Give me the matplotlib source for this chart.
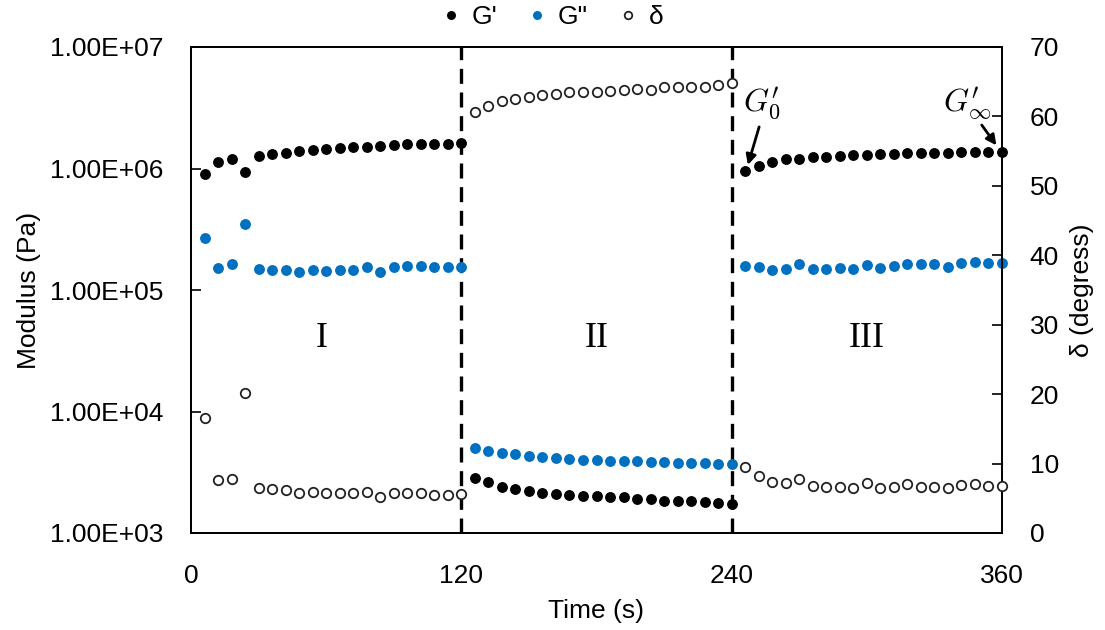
import numpy as np
import matplotlib
matplotlib.use("Agg")
import matplotlib.pyplot as plt

plt.rcParams['font.family'] = ['Liberation Sans', 'DejaVu Sans']
plt.rcParams['mathtext.fontset'] = 'cm'

time_s = np.arange(6, 361, 6)

g_storage = [
    9.0e5, 1.13e6, 1.19e6, 9.4e5, 1.27e6, 1.32e6, 1.35e6, 1.39e6, 1.41e6, 1.44e6,
    1.47e6, 1.49e6, 1.50e6, 1.52e6, 1.55e6, 1.58e6, 1.58e6, 1.60e6, 1.60e6, 1.61e6,
    2.85e3, 2.61e3, 2.40e3, 2.29e3, 2.22e3, 2.15e3, 2.08e3, 2.04e3, 2.02e3, 2.01e3,
    1.99e3, 1.97e3, 1.91e3, 1.89e3, 1.85e3, 1.83e3, 1.82e3, 1.81e3, 1.78e3, 1.73e3,
    9.5e5, 1.05e6, 1.14e6, 1.19e6, 1.19e6, 1.24e6, 1.25e6, 1.27e6, 1.29e6, 1.29e6,
    1.32e6, 1.32e6, 1.35e6, 1.35e6, 1.35e6, 1.35e6, 1.37e6, 1.37e6, 1.37e6, 1.37e6,
]
g_loss = [
    2.69e5, 1.51e5, 1.64e5, 3.49e5, 1.48e5, 1.45e5, 1.47e5, 1.41e5, 1.45e5, 1.43e5,
    1.45e5, 1.47e5, 1.55e5, 1.41e5, 1.56e5, 1.58e5, 1.58e5, 1.56e5, 1.56e5, 1.56e5,
    5.04e3, 4.76e3, 4.53e3, 4.47e3, 4.33e3, 4.25e3, 4.14e3, 4.07e3, 3.99e3, 3.99e3,
    3.94e3, 3.94e3, 3.89e3, 3.84e3, 3.82e3, 3.79e3, 3.79e3, 3.75e3, 3.72e3, 3.67e3,
    1.58e5, 1.54e5, 1.46e5, 1.49e5, 1.63e5, 1.49e5, 1.49e5, 1.51e5, 1.49e5, 1.61e5,
    1.52e5, 1.58e5, 1.64e5, 1.63e5, 1.64e5, 1.54e5, 1.66e5, 1.69e5, 1.66e5, 1.66e5,
]
delta_deg = [
    16.6, 7.63, 7.78, 20.16, 6.52, 6.34, 6.19, 5.72, 5.86, 5.72,
    5.72, 5.72, 5.86, 5.23, 5.72, 5.80, 5.80, 5.47, 5.47, 5.57,
    60.59, 61.54, 62.18, 62.55, 62.84, 63.04, 63.27, 63.47, 63.56, 63.47,
    63.70, 63.80, 63.91, 63.80, 64.28, 64.20, 64.20, 64.28, 64.53, 64.77,
    9.55, 8.21, 7.39, 7.16, 7.78, 6.81, 6.67, 6.67, 6.44, 7.16,
    6.44, 6.67, 7.01, 6.67, 6.67, 6.44, 6.91, 7.01, 6.81, 6.81,
]

x_ticks = [0, 120, 240, 360]
left_ticks = [1e3, 1e4, 1e5, 1e6, 1e7]
left_labels = ["1.00E+03", "1.00E+04", "1.00E+05", "1.00E+06", "1.00E+07"]
right_ticks = list(range(0, 71, 10))
stage_boundaries = [120, 240]
stage_labels = ["I", "II", "III"]
stage_centers = [58, 180, 300]

blue = "#0070C0"
fs = 19

fig = plt.figure(figsize=(11.05, 6.30), dpi=100)
ax = fig.add_axes([191/1105, 1 - 533/630, (1002 - 191)/1105, (533 - 47)/630])
ax2 = ax.twinx()

ax.set_yscale('log')
ax.set_ylim(1e3, 1e7)
ax.set_xlim(0, 360)
ax2.set_ylim(0, 70)

ms = 6.8
ax.plot(time_s, g_storage, 'o', color='black', ms=ms, mec='black', label="G'",
        zorder=3, clip_on=False)
ax.plot(time_s, g_loss, 'o', color=blue, ms=ms, mec=blue, label='G"',
        zorder=3, clip_on=False)
ax2.plot(time_s, delta_deg, 'o', mfc='white', mec='#222222', mew=1.3, ms=ms, label='δ',
         zorder=3, clip_on=False)

for xb in stage_boundaries:
    ax.axvline(xb, color='black', lw=2.4, ls=(0, (4.5, 2.6)), zorder=2)

for xc, lab in zip(stage_centers, stage_labels):
    ax.text(xc, 10**4.6, lab, ha='center', va='center', fontsize=26,
            family='Liberation Serif', zorder=4)

ax.set_xticks(x_ticks)
ax.set_yticks(left_ticks)
ax.set_yticklabels(left_labels)
ax.yaxis.set_minor_locator(matplotlib.ticker.NullLocator())
ax2.set_yticks(right_ticks)

ax.tick_params(axis='x', length=0, pad=22, labelsize=fs)
ax.tick_params(axis='y', direction='in', length=7, width=1.2, pad=20, labelsize=fs)
ax2.tick_params(axis='y', direction='in', length=7, width=1.2, pad=20, labelsize=fs)

for sp in ax.spines.values():
    sp.set_linewidth(1.3)
for sp in ax2.spines.values():
    sp.set_linewidth(1.3)

ax.set_xlabel("Time (s)", fontsize=fs, labelpad=8)
ax.set_ylabel("Modulus (Pa)", fontsize=fs, labelpad=6)
ax2.set_ylabel("δ (degress)", fontsize=fs, labelpad=8)

arrowprops = dict(arrowstyle='-|>,head_length=0.6,head_width=0.3', color='black', lw=2,
                  shrinkA=0, shrinkB=0)
ax.annotate("", xy=(247.2, 1.07e6), xytext=(252.2, 2.2e6), arrowprops=arrowprops, zorder=5)
ax.annotate("", xy=(357.5, 1.55e6), xytext=(351, 2.28e6), arrowprops=arrowprops, zorder=5)
ax.text(253.4, 3.4e6, r"$G^{\prime}_{0}$", fontsize=23, ha='center', va='center')
ax.text(344.4, 3.4e6, r"$G^{\prime}_{\infty}$", fontsize=23, ha='center', va='center')

h1, l1 = ax.get_legend_handles_labels()
h2, l2 = ax2.get_legend_handles_labels()
leg = fig.legend(h1 + h2, l1 + l2, loc='center', bbox_to_anchor=(553/1105, 1 - 17/630),
                 ncol=3, frameon=False, fontsize=fs, handlelength=0.6, handletextpad=0.5,
                 columnspacing=1.2, markerscale=0.8, borderpad=0)

fig.savefig("out.png", dpi=100)
